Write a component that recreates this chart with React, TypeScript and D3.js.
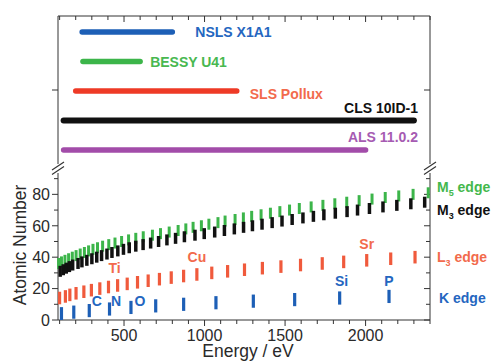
import React, { useEffect, useRef } from 'react';
import * as d3 from 'd3';

// beamline energy ranges (eV)
const beamlineNames = ['NSLS X1A1', 'BESSY U41', 'SLS Pollux', 'CLS 10ID-1', 'ALS 11.0.2'];
const beamlineStart = [240, 245, 200, 125, 125];
const beamlineEnd = [800, 600, 1200, 2300, 2000];

// absorption edges: [Z, energy eV]
const kEdge = [
  [4, 111.5], [5, 188], [6, 284.2], [7, 409.9], [8, 543.1], [9, 696.7],
  [10, 870.2], [11, 1070.8], [12, 1303], [13, 1559.6], [14, 1839], [15, 2145.5],
];
const l3Edge = [
  [14, 99.8], [15, 136], [16, 163.6], [17, 202], [18, 250.6], [19, 297.3], [20, 349.7],
  [21, 403.6], [22, 460.2], [23, 519.8], [24, 583.8], [25, 649.9], [26, 719.9], [27, 793.2],
  [28, 870], [29, 952.3], [30, 1044.9], [31, 1143.2], [32, 1248.1], [33, 1359.1], [34, 1474.3],
  [35, 1596], [36, 1730.9], [37, 1864], [38, 2007], [39, 2156], [40, 2307],
];
const m5Edge = [
  [36, 93.8], [37, 111.5], [38, 133.1], [39, 155.8], [40, 178.8], [41, 202.3], [42, 227.9],
  [43, 253.9], [44, 279.9], [45, 307.2], [46, 335.2], [47, 367], [48, 405.2], [49, 443.9],
  [50, 484.9], [51, 528.2], [52, 573], [53, 619.3], [54, 676.4], [55, 726.6], [56, 780.5],
  [57, 836], [58, 883.8], [59, 928.8], [60, 980.4], [61, 1027], [62, 1083.4], [63, 1127.5],
  [64, 1189.6], [65, 1241.1], [66, 1292.6], [67, 1351], [68, 1409], [69, 1467.7], [70, 1527.8],
  [71, 1588.5], [72, 1662], [73, 1735], [74, 1809], [75, 1883], [76, 1960], [77, 2040],
  [78, 2122], [79, 2206], [80, 2295], [81, 2389],
];
const m3Edge = [
  [31, 103.5], [32, 122.5], [33, 141.2], [34, 160.7], [35, 181], [36, 214.4], [37, 238.5],
  [38, 269.1], [39, 300.3], [40, 330.5], [41, 360.6], [42, 394], [43, 425], [44, 461.4],
  [45, 496.5], [46, 532.3], [47, 573], [48, 618.4], [49, 665.3], [50, 714.6], [51, 766.4],
  [52, 820], [53, 875], [54, 940.6], [55, 998], [56, 1063], [57, 1123.4], [58, 1185],
  [59, 1242.2], [60, 1297.4], [61, 1357], [62, 1419.8], [63, 1481], [64, 1544], [65, 1611],
  [66, 1676], [67, 1741], [68, 1812], [69, 1885], [70, 1950], [71, 2024], [72, 2108],
  [73, 2194], [74, 2281], [75, 2367],
];

const elementNames = ['C', 'N', 'O', 'Si', 'P', 'Ti', 'Cu', 'Sr'];
const elementZ = [6, 7, 8, 14, 15, 22, 29, 38];
const elementEnergy = [284.2, 409.9, 543.1, 1839, 2145.5, 460.2, 952.3, 2007];

const edgeNames = ['M', 'M', 'L', 'K'];
const edgeSubs = ['5', '3', '3', ''];
const edgeLabelZ = [84.5, 70, 40, 14];

const xTicks = [500, 1000, 1500, 2000];
const yTicks = [0, 20, 40, 60, 80];

const BLUE = '#1d5fb6';
const GREEN = '#3cb54a';
const RED = '#f05a3c';
const BLACK = '#111111';
const PURPLE = '#a24ca9';
const FONT = '"Liberation Sans", Arial, sans-serif';

const EdgeChart = () => {
  const ref = useRef<SVGSVGElement>(null);
  const width = 496;
  const height = 361;

  useEffect(() => {
    const svg = d3.select(ref.current);
    svg.selectAll('*').remove();
    svg.style('font-family', FONT);

    const left = 58, right = 430;
    const topY = 16, topBottom = 164;
    const lowTop = 173, lowBottom = 320;

    const x = d3.scaleLinear().domain([90, 2400]).range([left, right]);
    const yLow = d3.scaleLinear().domain([0, 95]).range([lowBottom, 170.8]);
    const yTop = d3.scalePoint().domain(beamlineNames).range([32, 150]);

    const axisColor = '#333';
    const lines = svg.append('g').attr('stroke', axisColor).attr('stroke-width', 1).attr('fill', 'none');

    // frames
    lines.append('path').attr('d', `M${left},${topBottom}V${topY}H${right}V${topBottom}`);
    lines.append('path').attr('d', `M${left},${lowTop}V${lowBottom}H${right}V${lowTop}`);

    // break marks
    [left, right].forEach(bx => {
      [166, 170.5].forEach(by => {
        lines.append('line')
          .attr('x1', bx - 6).attr('y1', by + 4)
          .attr('x2', bx + 6).attr('y2', by - 4)
          .attr('stroke-width', 1.2);
      });
    });

    // x ticks: bottom outward, top inward
    d3.range(100, 2401, 100).forEach(v => {
      const major = v % 500 === 0;
      const px = x(v);
      lines.append('line').attr('x1', px).attr('x2', px)
        .attr('y1', lowBottom).attr('y2', lowBottom + (major ? 6 : 4));
      lines.append('line').attr('x1', px).attr('x2', px)
        .attr('y1', topY).attr('y2', topY + (major ? 6 : 4));
    });

    // y ticks lower panel: left outward, right inward
    d3.range(0, 91, 10).forEach(v => {
      const major = v % 20 === 0;
      const py = yLow(v);
      lines.append('line').attr('x1', left).attr('x2', left - (major ? 6 : 4)).attr('y1', py).attr('y2', py);
      lines.append('line').attr('x1', right).attr('x2', right - (major ? 6 : 4)).attr('y1', py).attr('y2', py);
    });

    // single tick in upper panel
    const midY = yTop('SLS Pollux') as number;
    lines.append('line').attr('x1', left).attr('x2', left - 6).attr('y1', midY - 1).attr('y2', midY - 1);
    lines.append('line').attr('x1', right).attr('x2', right - 6).attr('y1', midY - 1).attr('y2', midY - 1);

    // tick labels
    const labels = svg.append('g').attr('fill', '#2a2a2a').attr('font-size', 16);
    xTicks.forEach(v => {
      labels.append('text').attr('x', x(v)).attr('y', 340.5).attr('text-anchor', 'middle').text(v);
    });
    yTicks.forEach(v => {
      labels.append('text').attr('x', 50).attr('y', yLow(v)).attr('dy', '0.36em')
        .attr('text-anchor', 'end').text(v);
    });

    // axis titles
    svg.append('text').attr('x', 248).attr('y', 356.5).attr('text-anchor', 'middle')
      .attr('font-size', 17.5).attr('fill', '#2a2a2a').text('Energy / eV');
    svg.append('text').attr('transform', 'translate(26,245) rotate(-90)').attr('text-anchor', 'middle')
      .attr('font-size', 17.5).attr('fill', '#2a2a2a').text('Atomic Number');

    // beamline ranges
    const beamColors = [BLUE, GREEN, '#ee3a26', BLACK, PURPLE];
    const beamTextColors = ['#2466c0', '#48b850', '#f26a4c', '#111', '#a65bb2'];
    const bl = svg.append('g');
    beamlineNames.forEach((name, i) => {
      bl.append('line')
        .attr('x1', x(beamlineStart[i])).attr('x2', x(beamlineEnd[i]))
        .attr('y1', yTop(name)).attr('y2', yTop(name))
        .attr('stroke', beamColors[i]).attr('stroke-width', i === 3 ? 6 : 5.5)
        .attr('stroke-linecap', 'round');
    });
    const beamLabelPos = [
      { x: x(beamlineEnd[0]) + 23, dy: 5, anchor: 'start' },
      { x: x(beamlineEnd[1]) + 10, dy: 5, anchor: 'start' },
      { x: x(beamlineEnd[2]) + 13, dy: 8, anchor: 'start' },
      { x: 418, dy: -8, anchor: 'end' },
      { x: 418, dy: -8, anchor: 'end' },
    ];
    beamlineNames.forEach((name, i) => {
      bl.append('text')
        .attr('x', beamLabelPos[i].x)
        .attr('y', (yTop(name) as number) + beamLabelPos[i].dy)
        .attr('text-anchor', beamLabelPos[i].anchor)
        .attr('font-size', 14).attr('font-weight', 'bold')
        .attr('fill', beamTextColors[i]).text(name);
    });

    // edge bars
    const plot = svg.append('g');
    const drawBars = (data: number[][], color: string, half: number, w: number) => {
      plot.append('g').selectAll('line')
        .data(data.filter(d => d[1] >= 90 && d[1] <= 2400))
        .enter().append('line')
        .attr('x1', d => x(d[1])).attr('x2', d => x(d[1]))
        .attr('y1', d => Math.min(yLow(Math.max(d[0] - half, 0)), lowBottom))
        .attr('y2', d => yLow(d[0] + half))
        .attr('stroke', color).attr('stroke-width', w);
    };
    drawBars(l3Edge, RED, 4, 3.2);
    drawBars(kEdge, BLUE, 4.2, 3.2);
    drawBars(m5Edge, GREEN, 3.5, 3);
    drawBars(m3Edge, BLACK, 3.5, 3.5);

    // element labels
    const elOffsets = [[7.5, -10], [6.5, -8], [9, -6.5], [2, -17], [0, -15], [-3, -17], [0, -17], [0, -16]];
    elementNames.forEach((name, i) => {
      plot.append('text')
        .attr('x', x(elementEnergy[i]) + elOffsets[i][0])
        .attr('y', yLow(elementZ[i]) + elOffsets[i][1])
        .attr('dy', '0.36em').attr('text-anchor', 'middle')
        .attr('font-size', 14).attr('font-weight', 'bold')
        .attr('fill', i < 5 ? '#2466c0' : '#f26a4c')
        .text(name);
    });

    // edge legend on the right
    const edgeColors = ['#44b84c', BLACK, '#f26a4c', '#2466c0'];
    edgeNames.forEach((name, i) => {
      const t = svg.append('text')
        .attr('x', i === 3 ? 439 : 437).attr('y', yLow(edgeLabelZ[i])).attr('dy', '0.36em')
        .attr('font-size', 14).attr('font-weight', 'bold').attr('fill', edgeColors[i]);
      t.append('tspan').text(name);
      if (edgeSubs[i]) {
        t.append('tspan').attr('font-size', 9).attr('dy', 4).text(edgeSubs[i]);
        t.append('tspan').attr('dy', -4).text(' edge');
      } else {
        t.append('tspan').text(' edge');
      }
    });
  }, []);

  return <svg ref={ref} width={width} height={height} style={{ display: 'block' }} />;
};

export default function App() {
  return (
    <div style={{ position: 'absolute', left: 0, top: 0, background: '#fff' }}>
      <EdgeChart />
    </div>
  );
}
